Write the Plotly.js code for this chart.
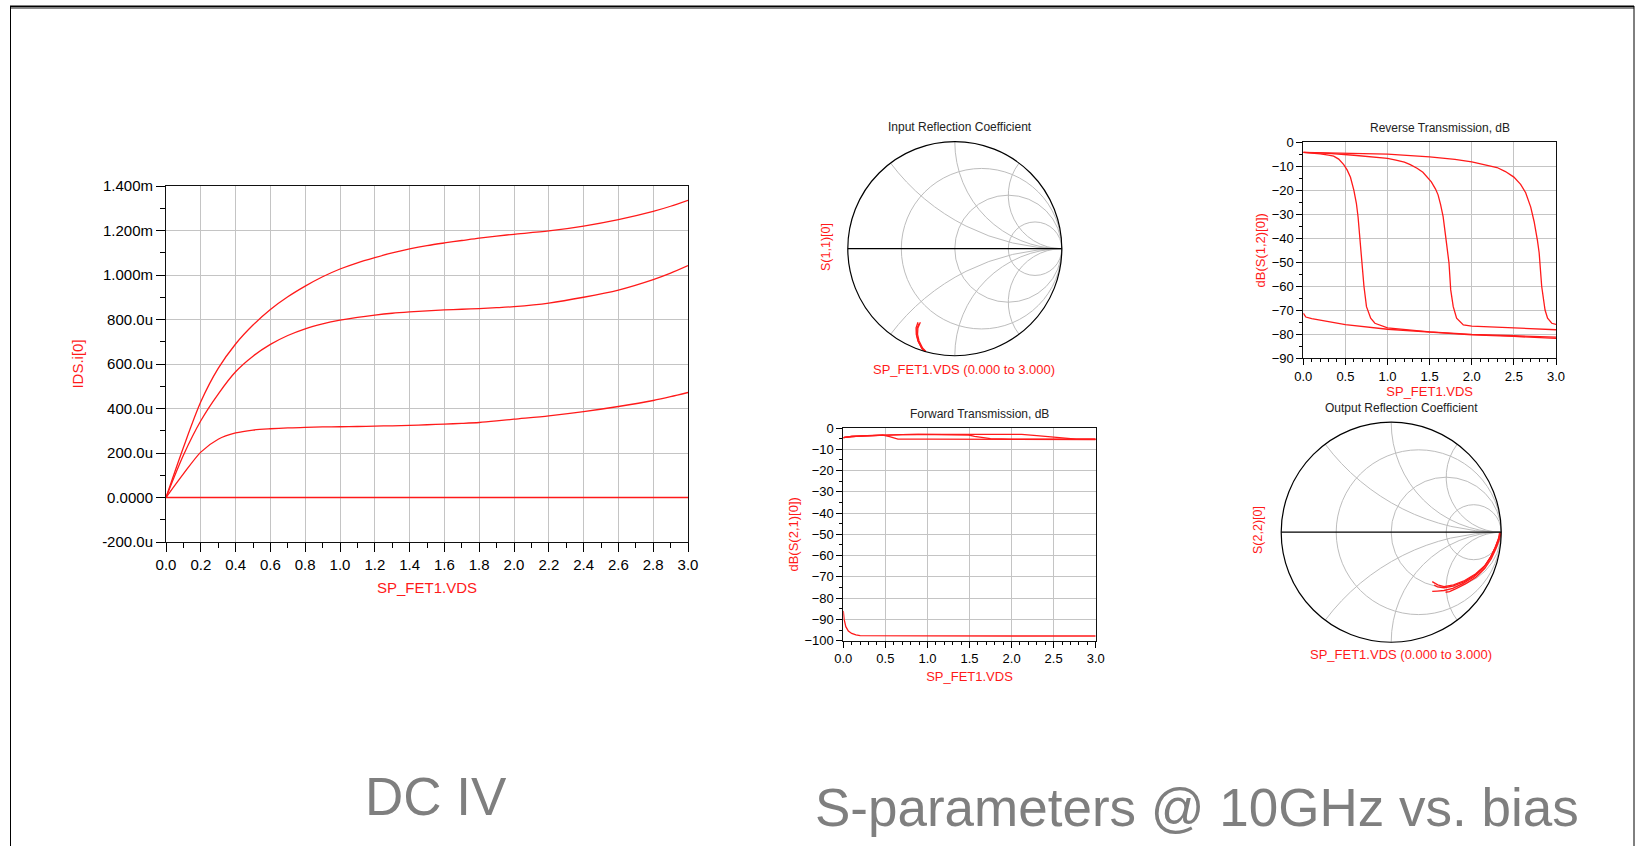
<!DOCTYPE html>
<html>
<head>
<meta charset="utf-8">
<script src="https://cdn.plot.ly/plotly-3.0.1.min.js"></script>
<style>
  html, body { margin: 0; padding: 0; background: #ffffff; }
  #chart { width: 1644px; height: 846px; }
</style>
</head>
<body>
<div id="chart"></div>
<script>
// ---------------- DATA ----------------
// DC IV : drain current (uA) vs VDS (V) for four gate biases
const ivVds = [0, 0.1, 0.2, 0.3, 0.4, 0.5, 0.6, 0.7, 0.8, 0.9, 1.0, 1.1, 1.2, 1.3, 1.4, 1.5, 1.6, 1.7, 1.8, 1.9, 2.0, 2.2, 2.4, 2.6, 2.8, 2.9, 3.0];
const ivTop = [0, 225, 430, 580, 690, 775, 845, 902, 950, 992, 1027, 1055, 1078, 1099, 1117, 1132, 1144, 1155, 1166, 1175, 1183, 1198, 1220, 1249, 1286, 1309, 1336];
const ivMid = [0, 190, 345, 465, 565, 635, 688, 728, 758, 780, 797, 810, 820, 828, 834, 839, 843, 846, 849, 853, 858, 874, 900, 932, 979, 1008, 1042];
const ivLow = [0, 106, 204, 262, 290, 303, 309, 313, 315, 317, 318, 319, 321, 322, 324, 327, 330, 333, 337, 344, 352, 367, 386, 409, 436, 453, 472];
const ivOff = [0, 0, 0, 0, 0, 0, 0, 0, 0, 0, 0, 0, 0, 0, 0, 0, 0, 0, 0, 0, 0, 0, 0, 0, 0, 0, 0];
const ivTickValsU = [-200, 0, 200, 400, 600, 800, 1000, 1200, 1400];
const ivTickText = ['-200.0u', '0.0000', '200.0u', '400.0u', '600.0u', '800.0u', '1.000m', '1.200m', '1.400m'];

// Reverse transmission dB(S12)
const s12xA = [0, 0.1, 0.2, 0.3, 0.36, 0.42, 0.48, 0.52, 0.56, 0.6, 0.63, 0.65, 0.67, 0.7, 0.72, 0.75, 0.8, 0.85, 0.9, 1.0, 1.5, 2.0, 2.5, 3.0];
const s12yA = [-4.2, -4.4, -4.8, -5.3, -5.8, -7.0, -9.3, -11.5, -14.6, -19.9, -25.4, -31, -40, -50, -60, -68.5, -73.3, -75.4, -76.1, -77.3, -79, -80, -80.6, -81.2];
const s12xB = [0, 0.3, 0.6, 0.8, 1.0, 1.1, 1.2, 1.27, 1.35, 1.42, 1.47, 1.52, 1.57, 1.6, 1.63, 1.66, 1.7, 1.73, 1.75, 1.78, 1.82, 1.9, 2.0, 2.5, 3.0];
const s12yB = [-4.2, -4.6, -5.4, -6.0, -6.7, -7.4, -8.3, -9.3, -10.8, -12.5, -14.6, -16.5, -19.5, -21.9, -26, -31, -42, -50.4, -61.5, -68.5, -73.3, -76.1, -76.6, -77.5, -78.1];
const s12xC = [0, 0.5, 1.0, 1.5, 1.8, 2.0, 2.2, 2.3, 2.4, 2.5, 2.58, 2.64, 2.7, 2.74, 2.78, 2.8, 2.83, 2.87, 2.9, 2.95, 3.0];
const s12yC = [-4.2, -4.4, -4.9, -6.1, -7.1, -8.2, -9.6, -10.5, -12.2, -14.5, -17.5, -21, -27, -33, -41, -46, -60, -69.9, -73.3, -75.4, -75.9];
const s12xD = [0, 0.03, 0.1, 0.2, 0.5, 1.0, 1.5, 2.0, 2.5, 3.0];
const s12yD = [-71.2, -72.8, -73.5, -74.1, -76, -77.9, -79.2, -80.2, -80.9, -81.7];

// Forward transmission dB(S21)
const s21xA = [0, 0.02, 0.1, 0.25, 0.47, 0.55, 0.65, 1.0, 1.5, 2.0, 2.5, 3.0];
const s21yA = [-4.7, -4.3, -4.0, -3.7, -3.3, -4.0, -5.2, -5.2, -5.2, -5.2, -5.3, -5.4];
const s21xB = [0, 0.1, 0.25, 0.47, 0.7, 0.89, 1.2, 1.49, 1.56, 1.63, 1.75, 2.0, 2.5, 3.0];
const s21yB = [-4.5, -4.0, -3.7, -3.3, -3.1, -3.0, -3.1, -3.3, -3.9, -4.4, -5.0, -5.2, -5.2, -5.3];
const s21xC = [0, 0.1, 0.25, 0.47, 0.7, 0.89, 1.5, 2.12, 2.3, 2.5, 2.65, 2.77, 3.0];
const s21yC = [-4.5, -4.0, -3.7, -3.3, -3.1, -3.0, -3.0, -3.0, -3.6, -4.4, -4.9, -5.2, -5.3];
const s21xD = [0, 0.01, 0.03, 0.06, 0.1, 0.15, 0.2, 0.5, 1.0, 2.0, 3.0];
const s21yD = [-86, -90, -93.4, -95.5, -96.6, -97.3, -97.6, -97.7, -97.7, -97.8, -97.8];

// Input reflection S11 (reflection coefficient, real / imaginary)
const s11ReA = [-0.344, -0.362, -0.36, -0.345, -0.31, -0.275];
const s11ImA = [-0.687, -0.74, -0.80, -0.86, -0.93, -0.96];
const s11ReB = [-0.322, -0.345, -0.348, -0.335, -0.30, -0.27];
const s11ImB = [-0.687, -0.74, -0.80, -0.86, -0.93, -0.96];
const s11ReC = [-0.333, -0.355, -0.355, -0.34, -0.305, -0.272];
const s11ImC = [-0.70, -0.75, -0.81, -0.87, -0.935, -0.962];

// Output reflection S22 (reflection coefficient, real / imaginary)
const s22ReA = [0.994, 0.985, 0.957, 0.913, 0.855, 0.769, 0.668, 0.567, 0.48, 0.423, 0.373];
const s22ImA = [0.0, -0.041, -0.118, -0.21, -0.301, -0.378, -0.439, -0.479, -0.494, -0.479, -0.449];
const s22ReB = [0.99, 0.98, 0.95, 0.905, 0.845, 0.76, 0.66, 0.56, 0.48, 0.42, 0.39];
const s22ImB = [-0.01, -0.05, -0.13, -0.225, -0.315, -0.392, -0.452, -0.49, -0.505, -0.497, -0.48];
const s22ReC = [0.985, 0.975, 0.945, 0.9, 0.84, 0.755, 0.655, 0.56, 0.48, 0.42, 0.373];
const s22ImC = [-0.005, -0.06, -0.14, -0.235, -0.325, -0.405, -0.465, -0.51, -0.53, -0.535, -0.538];
const s22ReD = [0.995, 0.982, 0.952, 0.91, 0.85, 0.77, 0.675, 0.585, 0.53, 0.494];
const s22ImD = [-0.02, -0.07, -0.15, -0.24, -0.33, -0.41, -0.47, -0.515, -0.54, -0.546];

// Smith grid values (normalized resistance circles / reactance arcs)
const smithRealGrid = [1 / 3, 1, 3];
const smithImagGrid = [-2, -1, -0.5, 0.5, 1, 2];

// ---------------- HELPERS ----------------
const W = 1644, H = 846;
const px = v => v / W;
const py = v => 1 - v / H;
const RED = '#ff1a1a';
const FONT = 'Liberation Sans, Arial, Helvetica, sans-serif';

// reflection coefficient -> normalized impedance
function toZ(re, im) {
  const r = [], x = [];
  for (let i = 0; i < re.length; i++) {
    const d = (1 - re[i]) * (1 - re[i]) + im[i] * im[i];
    r.push((1 - re[i] * re[i] - im[i] * im[i]) / d);
    x.push(2 * im[i] / d);
  }
  return { r, x };
}

function line(x, y, xa, ya, smooth) {
  const ln = { color: RED, width: 1.3 };
  if (smooth) { ln.shape = 'spline'; ln.smoothing = 0.8; }
  return { type: 'scatter', mode: 'lines', x, y, xaxis: xa, yaxis: ya,
           line: ln, showlegend: false, hoverinfo: 'skip' };
}
function smithLine(re, im, sp) {
  const z = toZ(re, im);
  return { type: 'scattersmith', subplot: sp, real: z.r, imag: z.x, mode: 'lines',
           line: { color: RED, width: 1.3 }, showlegend: false, hoverinfo: 'skip' };
}

const toA = arr => arr.map(v => v * 1e-6);

const traces = [
  line(ivVds, toA(ivTop), 'x', 'y', true),
  line(ivVds, toA(ivMid), 'x', 'y', true),
  line(ivVds, toA(ivLow), 'x', 'y', true),
  line(ivVds, toA(ivOff), 'x', 'y', false),
  line(s12xA, s12yA, 'x2', 'y2'),
  line(s12xB, s12yB, 'x2', 'y2'),
  line(s12xC, s12yC, 'x2', 'y2'),
  line(s12xD, s12yD, 'x2', 'y2'),
  line(s21xA, s21yA, 'x3', 'y3'),
  line(s21xB, s21yB, 'x3', 'y3'),
  line(s21xC, s21yC, 'x3', 'y3'),
  line(s21xD, s21yD, 'x3', 'y3'),
  smithLine(s11ReA, s11ImA, 'smith'),
  smithLine(s11ReB, s11ImB, 'smith'),
  smithLine(s11ReC, s11ImC, 'smith'),
  smithLine(s22ReA, s22ImA, 'smith2'),
  smithLine(s22ReB, s22ImB, 'smith2'),
  smithLine(s22ReC, s22ImC, 'smith2'),
  smithLine(s22ReD, s22ImD, 'smith2')
];

const GRID = '#c4c4c4';
function xAx(domain, anchor, dtick, fs, tl, title, standoff) {
  return {
    domain, anchor, range: [0, 3], tickmode: 'linear', tick0: 0, dtick, tickformat: '.1f',
    ticks: 'outside', ticklen: tl, tickcolor: '#000', tickwidth: 1,
    showline: true, linecolor: '#111', linewidth: 1, mirror: true,
    showgrid: true, gridcolor: GRID, gridwidth: 1, zeroline: false,
    minor: { tickmode: 'linear', tick0: 0, dtick: 0.1, ticks: 'outside', ticklen: Math.round(tl / 2), tickcolor: '#000', showgrid: false },
    tickfont: { family: FONT, size: fs, color: '#000' },
    title: { text: title, font: { family: FONT, size: fs, color: RED }, standoff }
  };
}
function yAx(domain, anchor, range, dtick, fs, tl, title, standoff) {
  return {
    domain, anchor, range, tickmode: 'linear', tick0: 0, dtick,
    ticks: 'outside', ticklen: tl, tickcolor: '#000', tickwidth: 1,
    showline: true, linecolor: '#111', linewidth: 1, mirror: true,
    showgrid: true, gridcolor: GRID, gridwidth: 1, zeroline: false,
    minor: { tickmode: 'linear', tick0: 0, dtick: dtick / 2, ticks: 'outside', ticklen: Math.round(tl / 2), tickcolor: '#000', showgrid: false },
    tickfont: { family: FONT, size: fs, color: '#000' },
    title: { text: title, font: { family: FONT, size: fs, color: RED }, standoff }
  };
}

const yIV = yAx([py(542), py(186)], 'x', [-200e-6, 1400e-6], 200e-6, 15, 9, 'IDS.i[0]', 14);
yIV.tickmode = 'array';
yIV.tickvals = toA(ivTickValsU);
yIV.ticktext = ivTickText;
yIV.minor = { tickmode: 'linear', tick0: 0, dtick: 100e-6, ticks: 'outside', ticklen: 5, tickcolor: '#000', showgrid: false };

function smithLayout(cx, cy, d) {
  return {
    domain: { x: [px(cx - d / 2), px(cx + d / 2)], y: [py(cy + d / 2), py(cy - d / 2)] },
    bgcolor: 'rgba(0,0,0,0)',
    realaxis: { tickvals: smithRealGrid, showticklabels: false, ticks: '', showgrid: true,
                gridcolor: '#bdbdbd', gridwidth: 1, showline: true, linecolor: '#000', linewidth: 1.2 },
    imaginaryaxis: { tickvals: smithImagGrid, showticklabels: false, ticks: '', showgrid: true,
                     gridcolor: '#bdbdbd', gridwidth: 1, showline: true, linecolor: '#000', linewidth: 1.2 }
  };
}

function ann(text, x, y, size, color, extra) {
  return Object.assign({ text, x: px(x), y: py(y), xref: 'paper', yref: 'paper',
    xanchor: 'center', yanchor: 'middle', showarrow: false,
    font: { family: FONT, size, color } }, extra || {});
}

const layout = {
  width: W, height: H,
  margin: { l: 0, r: 0, t: 0, b: 0 },
  paper_bgcolor: '#ffffff', plot_bgcolor: '#ffffff',
  showlegend: false,
  font: { family: FONT },
  xaxis: xAx([px(166), px(688)], 'y', 0.2, 15, 9, 'SP_FET1.VDS', 10),
  yaxis: yIV,
  xaxis2: xAx([px(1303.3), px(1556)], 'y2', 0.5, 13, 6, 'SP_FET1.VDS', 0),
  yaxis2: yAx([py(358.3), py(142.3)], 'x2', [-90, 0], 10, 13, 6, 'dB(S(1,2)[0])', 3),
  xaxis3: xAx([px(843.3), px(1095.7)], 'y3', 0.5, 13, 6, 'SP_FET1.VDS', 6),
  yaxis3: yAx([py(640.7), py(428)], 'x3', [-100, 0], 10, 13, 6, 'dB(S(2,1)[0])', 2),
  smith: smithLayout(954.8, 248.7, 214),
  smith2: smithLayout(1391.2, 532.2, 220),
  annotations: [
    ann('Input Reflection Coefficient', 960, 127, 12, '#222'),
    ann('S(1,1)[0]', 826, 247, 12.5, RED, { textangle: -90 }),
    ann('SP_FET1.VDS (0.000 to 3.000)', 964, 369, 13, RED),
    ann('Reverse Transmission, dB', 1440, 128, 12, '#222'),
    ann('Forward Transmission, dB', 979, 414, 12, '#222'),
    ann('Output Reflection Coefficient', 1401, 408, 12, '#222'),
    ann('S(2,2)[0]', 1258, 530, 12.5, RED, { textangle: -90 }),
    ann('SP_FET1.VDS (0.000 to 3.000)', 1401, 654, 13, RED),
    ann('DC IV', 436, 796, 53, '#7f7f7f'),
    ann('S-parameters @ 10GHz vs. bias', 1197, 807, 53, '#7f7f7f')
  ],
  shapes: [
    { type: 'line', xref: 'paper', yref: 'paper', x0: px(10), x1: px(1634), y0: py(6.5), y1: py(6.5), line: { color: '#000', width: 2 } },
    { type: 'line', xref: 'paper', yref: 'paper', x0: px(10), x1: px(1634), y0: py(8.5), y1: py(8.5), line: { color: '#8a8a8a', width: 1 } },
    { type: 'line', xref: 'paper', yref: 'paper', x0: px(10.5), x1: px(10.5), y0: py(6), y1: py(846), line: { color: '#000', width: 1 } },
    { type: 'line', xref: 'paper', yref: 'paper', x0: px(1634), x1: px(1634), y0: py(6), y1: py(846), line: { color: '#000', width: 1 } }
  ]
};

Plotly.newPlot('chart', traces, layout, { staticPlot: true, displayModeBar: false });
</script>
</body>
</html>
